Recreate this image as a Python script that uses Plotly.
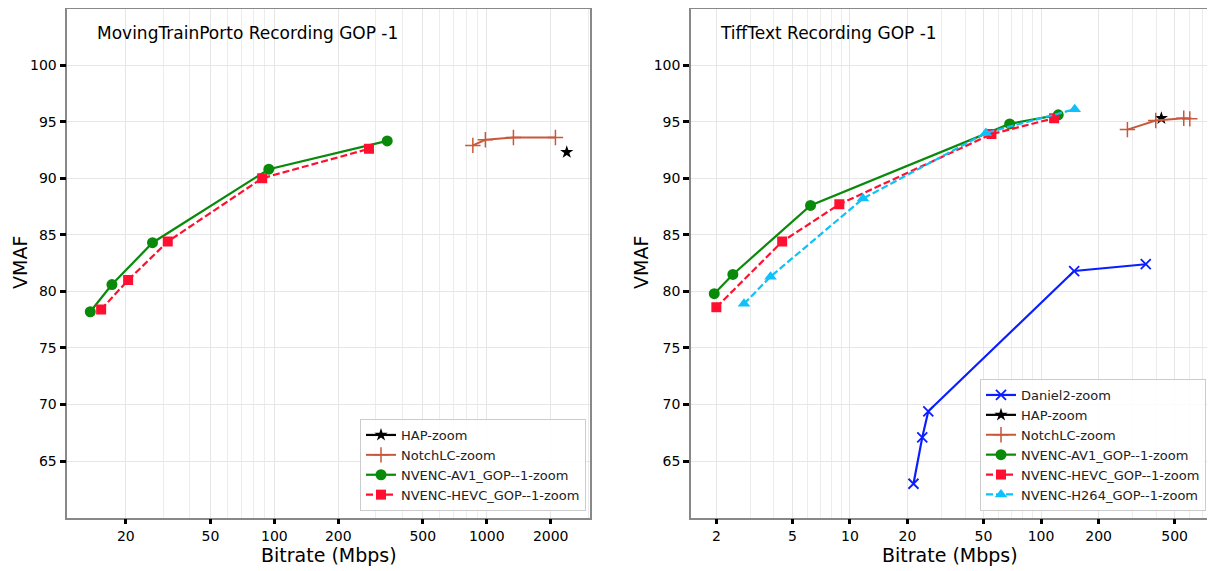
import plotly.graph_objects as go

# ---------------- data ----------------
# Left panel: MovingTrainPorto
hap_l_x = [2380]
hap_l_y = [92.3]
notch_l_x = [860, 985, 1335, 2105]
notch_l_y = [92.9, 93.4, 93.6, 93.6]
av1_l_x = [13.6, 17.2, 26.7, 94.2, 340]
av1_l_y = [78.2, 80.6, 84.3, 90.8, 93.3]
hevc_l_x = [15.3, 20.5, 31.5, 87.7, 279]
hevc_l_y = [78.4, 81.0, 84.4, 90.0, 92.6]

# Right panel: TiffText
daniel2_r_x = [21.5, 23.9, 25.7, 149, 353]
daniel2_r_y = [63.0, 67.1, 69.4, 81.8, 82.4]
hap_r_x = [426]
hap_r_y = [95.3]
notch_r_x = [283, 398, 558, 600]
notch_r_y = [94.3, 95.1, 95.3, 95.25]
av1_r_x = [1.95, 2.44, 6.22, 68.5, 123]
av1_r_y = [79.8, 81.5, 87.6, 94.8, 95.6]
hevc_r_x = [2.0, 4.42, 8.8, 55, 117]
hevc_r_y = [78.6, 84.4, 87.7, 93.9, 95.3]
h264_r_x = [2.79, 3.84, 11.7, 51.4, 150]
h264_r_y = [78.9, 81.3, 88.2, 94.0, 96.1]

x_ticks_l = [20, 50, 100, 200, 500, 1000, 2000]
x_ticks_r = [2, 5, 10, 20, 50, 100, 200, 500]
y_ticks = [65, 70, 75, 80, 85, 90, 95, 100]

titles = ["MovingTrainPorto Recording GOP -1", "TiffText Recording GOP -1"]

# ---------------- styles ----------------
FONT = "DejaVu Sans"
C_DANIEL = "#0a1eff"
C_HAP = "black"
C_NOTCH = "#c8583a"
C_AV1 = "#0a8a0a"
C_HEVC = "#ff1030"
C_H264 = "#10c0f8"
DASH = "7px,3px"

# page has an 8px body margin -> draw in a slightly smaller figure
WIN_W, WIN_H = 1215, 571
OFF = 8
W, H = WIN_W - OFF, WIN_H - OFF


def px(p):
    return min(1.0, max(0.0, (p - OFF) / W))


def py(p):
    return min(1.0, max(0.0, 1 - (p - OFF) / H))


fig = go.Figure()


def add(x, y, name, color, symbol, size, xa, ya, leg, dash="solid", lw=2.2, mline=0):
    fig.add_trace(go.Scatter(
        x=x, y=y, name=name, mode="lines+markers",
        line=dict(color=color, width=lw, dash=dash),
        marker=dict(color=color, symbol=symbol, size=size,
                    line=dict(color=color, width=mline)),
        xaxis=xa, yaxis=ya, legend=leg,
    ))


# left
add(hap_l_x, hap_l_y, "HAP-zoom", C_HAP, "star", 10, "x", "y", "legend")
add(notch_l_x, notch_l_y, "NotchLC-zoom", C_NOTCH, "cross-thin", 11, "x", "y", "legend", lw=2, mline=1.5)
add(av1_l_x, av1_l_y, "NVENC-AV1_GOP--1-zoom", C_AV1, "circle", 11, "x", "y", "legend")
add(hevc_l_x, hevc_l_y, "NVENC-HEVC_GOP--1-zoom", C_HEVC, "square", 10, "x", "y", "legend", dash=DASH)

# right
add(daniel2_r_x, daniel2_r_y, "Daniel2-zoom", C_DANIEL, "x-thin", 10, "x2", "y2", "legend2", mline=1.8)
add(hap_r_x, hap_r_y, "HAP-zoom", C_HAP, "star", 10, "x2", "y2", "legend2")
add(notch_r_x, notch_r_y, "NotchLC-zoom", C_NOTCH, "cross-thin", 11, "x2", "y2", "legend2", lw=2, mline=1.5)
add(av1_r_x, av1_r_y, "NVENC-AV1_GOP--1-zoom", C_AV1, "circle", 11, "x2", "y2", "legend2")
add(hevc_r_x, hevc_r_y, "NVENC-HEVC_GOP--1-zoom", C_HEVC, "square", 10, "x2", "y2", "legend2", dash=DASH)
add(h264_r_x, h264_r_y, "NVENC-H264_GOP--1-zoom", C_H264, "triangle-up", 11, "x2", "y2", "legend2", dash=DASH)


def minor_vals(lo, hi):
    vals = []
    d = 10 ** lo
    while d <= 10 ** (hi + 1):
        for m in range(1, 10):
            vals.append(m * d)
        d *= 10
    return vals


common_x = dict(
    type="log", showline=True, mirror=True, linecolor="#888888", linewidth=1.5,
    ticks="outside", ticklen=5, tickwidth=2.5, tickcolor="black",
    showgrid=True, gridcolor="#e6e6e6", gridwidth=1, zeroline=False,
    tickfont=dict(family=FONT, size=14, color="black"),
)
common_y = dict(
    range=[60, 105], tickvals=y_ticks, showline=True, mirror=True,
    linecolor="#888888", linewidth=1.5,
    ticks="outside", ticklen=6, tickwidth=2.5, tickcolor="black",
    showgrid=True, gridcolor="#e6e6e6", gridwidth=1, zeroline=False,
    tickfont=dict(family=FONT, size=14, color="black"),
)

ydom = [py(517.7), py(8.5)]

fig.update_layout(
    width=W, height=H,
    margin=dict(l=0, r=0, t=0, b=0),
    paper_bgcolor="white", plot_bgcolor="white",
    font=dict(family=FONT, color="black"),
    xaxis=dict(common_x, domain=[px(67.3), px(590)], range=[1.0254, 3.486],
               tickvals=x_ticks_l, ticktext=[str(v) for v in x_ticks_l],
               minor=dict(tickvals=minor_vals(1, 3), showgrid=True,
                          gridcolor="#ececec", gridwidth=1, ticks=""),
               anchor="y"),
    yaxis=dict(common_y, domain=ydom, anchor="x"),
    xaxis2=dict(common_x, domain=[px(691), px(1208.3)], range=[0.1684, 2.875],
                tickvals=x_ticks_r, ticktext=[str(v) for v in x_ticks_r],
                minor=dict(tickvals=minor_vals(0, 2), showgrid=True,
                           gridcolor="#ececec", gridwidth=1, ticks=""),
                anchor="y2"),
    yaxis2=dict(common_y, domain=ydom, anchor="x2"),
    legend=dict(
        x=px(586), y=py(511), xanchor="right", yanchor="bottom",
        xref="paper", yref="paper",
        bgcolor="rgba(255,255,255,0.85)", bordercolor="#cccccc", borderwidth=1,
        font=dict(family=FONT, size=13, color="#222222"),
        tracegroupgap=0, itemwidth=30,
    ),
    legend2=dict(
        x=px(1206), y=py(511), xanchor="right", yanchor="bottom",
        xref="paper", yref="paper",
        bgcolor="rgba(255,255,255,0.85)", bordercolor="#cccccc", borderwidth=1,
        font=dict(family=FONT, size=13, color="#222222"),
        tracegroupgap=0, itemwidth=30,
    ),
    showlegend=True,
)

annos = [
    dict(text=titles[0], x=px(95), y=py(33), xanchor="left", yanchor="middle",
         font=dict(family=FONT, size=17, color="black")),
    dict(text=titles[1], x=px(718), y=py(33), xanchor="left", yanchor="middle",
         font=dict(family=FONT, size=17, color="black")),
    dict(text="VMAF", x=px(20), y=py(263), xanchor="center", yanchor="middle",
         textangle=-90, font=dict(family=FONT, size=19, color="black")),
    dict(text="VMAF", x=px(641), y=py(263), xanchor="center", yanchor="middle",
         textangle=-90, font=dict(family=FONT, size=19, color="black")),
    dict(text="Bitrate (Mbps)", x=px(328.6), y=py(555), xanchor="center", yanchor="middle",
         font=dict(family=FONT, size=19, color="black")),
    dict(text="Bitrate (Mbps)", x=px(949.6), y=py(555), xanchor="center", yanchor="middle",
         font=dict(family=FONT, size=19, color="black")),
]
for a in annos:
    a.update(xref="paper", yref="paper", showarrow=False)
    fig.add_annotation(**a)

fig.write_html("out.html")
